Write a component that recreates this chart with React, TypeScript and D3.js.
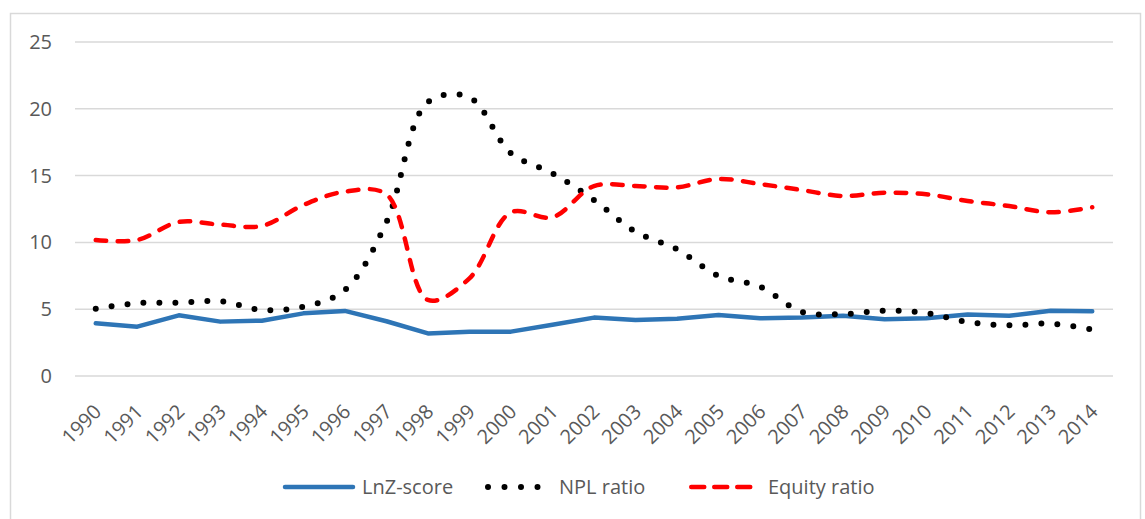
import React from 'react';
import * as d3 from 'd3';

const years = [
  '1990', '1991', '1992', '1993', '1994', '1995', '1996', '1997', '1998', '1999', '2000', '2001', '2002',
  '2003', '2004', '2005', '2006', '2007', '2008', '2009', '2010', '2011', '2012', '2013', '2014'
];

const lnZScore = [
  3.94, 3.69, 4.54, 4.07, 4.14, 4.69, 4.87, 4.1, 3.19, 3.32, 3.32, 3.83, 4.37,
  4.19, 4.29, 4.57, 4.32, 4.37, 4.51, 4.24, 4.32, 4.61, 4.51, 4.89, 4.84
];

const nplRatio = [
  5.04, 5.45, 5.49, 5.6, 4.95, 5.19, 6.44, 11.5, 20.5, 20.85, 16.67, 15.17, 13.17,
  10.8, 9.48, 7.49, 6.69, 4.81, 4.64, 4.89, 4.72, 4.04, 3.79, 3.92, 3.47
];

const equityRatio = [
  10.18, 10.18, 11.53, 11.33, 11.23, 12.8, 13.8, 13.6, 5.69, 7.31, 12.25, 11.88, 14.22,
  14.22, 14.12, 14.75, 14.37, 13.92, 13.47, 13.72, 13.6, 13.1, 12.72, 12.25, 12.63
];

const yTicks = [0, 5, 10, 15, 20, 25];

const W = 1145;
const H = 519;
const font = "'Open Sans', 'Noto Sans', sans-serif";
const textColor = '#595959';
const gridColor = '#d9d9d9';
const blue = '#2e75b6';
const red = '#ff0000';

export default function App() {
  const x = d3.scalePoint<string>().domain(years).range([75, 1113]).padding(0.5);
  const y = d3.scaleLinear().domain([0, 25]).range([376, 42]);

  const straight = d3
    .line<number>()
    .x((_, i) => x(years[i]) as number)
    .y(d => y(d));

  const smooth = d3
    .line<number>()
    .x((_, i) => x(years[i]) as number)
    .y(d => y(d))
    .curve(d3.curveCatmullRom.alpha(0.5));

  const legendY = 487;

  return (
    <div style={{ position: 'fixed', left: 0, top: 0, width: W, height: H, background: '#fff' }}>
      <svg width={W} height={H} style={{ display: 'block' }}>
        {/* chart frame */}
        <rect x={10.5} y={13.5} width={1130} height={520} fill="#fff" stroke={gridColor} strokeWidth={1.5} />

        {/* gridlines + y labels */}
        {yTicks.map(t => (
          <g key={t}>
            <line x1={75} x2={1113} y1={y(t)} y2={y(t)} stroke={gridColor} strokeWidth={1.5} />
            <text
              x={52}
              y={y(t)}
              dy="0.35em"
              textAnchor="end"
              fontFamily={font}
              fontSize={20}
              fill={textColor}
            >
              {t}
            </text>
          </g>
        ))}

        {/* x labels */}
        {years.map(yr => (
          <text
            key={yr}
            transform={`translate(${(x(yr) as number) + 2},${408}) rotate(-45)`}
            textAnchor="end"
            dy="0.35em"
            fontFamily={font}
            fontSize={20}
            fill={textColor}
          >
            {yr}
          </text>
        ))}

        {/* series */}
        <path d={straight(lnZScore) ?? ''} fill="none" stroke={blue} strokeWidth={4.5} strokeLinejoin="round" strokeLinecap="round" />
        <path
          d={smooth(nplRatio) ?? ''}
          fill="none"
          stroke="#000"
          strokeWidth={6}
          strokeLinecap="round"
          strokeDasharray="0 16"
        />
        <path
          d={smooth(equityRatio) ?? ''}
          fill="none"
          stroke={red}
          strokeWidth={4.5}
          strokeLinecap="round"
          strokeDasharray="10.5 11.5"
        />

        {/* legend */}
        <line x1={285} x2={353} y1={legendY} y2={legendY} stroke={blue} strokeWidth={4.5} strokeLinecap="round" />
        <text x={362} y={legendY} dy="0.35em" fontFamily={font} fontSize={20} fill={textColor}>
          LnZ-score
        </text>
        <line x1={488} x2={554} y1={legendY} y2={legendY} stroke="#000" strokeWidth={6} strokeLinecap="round" strokeDasharray="0 16.5" />
        <text x={559} y={legendY} dy="0.35em" fontFamily={font} fontSize={20} fill={textColor}>
          NPL ratio
        </text>
        <line x1={691.25} x2={750.5} y1={legendY} y2={legendY} stroke={red} strokeWidth={4.5} strokeLinecap="round" strokeDasharray="13 10" />
        <text x={768} y={legendY} dy="0.35em" fontFamily={font} fontSize={20} fill={textColor}>
          Equity ratio
        </text>
      </svg>
    </div>
  );
}
